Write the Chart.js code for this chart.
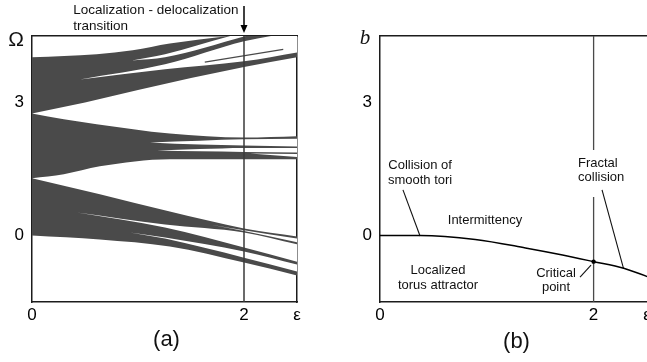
<!DOCTYPE html>
<html>
<head>
<meta charset="utf-8">
<script src="https://cdn.jsdelivr.net/npm/chart.js@4.4.1/dist/chart.umd.min.js"></script>
<style>
  html, body { margin: 0; padding: 0; background: #fff; }
  #wrap { position: relative; width: 647px; height: 362px; overflow: hidden; }
  canvas { position: absolute; top: 0; }
  #chartA { left: 0; }
  #chartB { left: 323px; }
</style>
</head>
<body>
<div id="wrap">
  <canvas id="chartA" width="323" height="362"></canvas>
  <canvas id="chartB" width="324" height="362"></canvas>
</div>
<script>
// ---- axis ticks ----
const epsTicks = [0, 2, 2.5];
const omegaTicks = [0, 3];
const bTicks = [0, 3];

// ---- panel (a): frequency bands, edges as [ε, Ω] ----
const topBandUpper = [[0, 4.02], [0.61, 4.09], [0.95, 4.18], [1.3, 4.33], [1.58, 4.42], [1.89, 4.51], [2.15, 4.6], [2.5, 4.8]];
const topBandLower = [[0, 2.75], [0.5, 3.0], [1.0, 3.28], [1.5, 3.55], [2.0, 3.8], [2.5, 4.02]];
const midBandUpper = [[0, 2.75], [0.3, 2.62], [0.61, 2.51], [1.3, 2.3], [2.0, 2.21], [2.5, 2.24]];
const midBandLower = [[0, 1.29], [0.3, 1.38], [0.64, 1.56], [1.3, 1.72], [2.0, 1.72], [2.5, 1.72]];
const lowBandUpper = [[0, 1.29], [0.64, 0.93], [1.3, 0.54], [2.0, 0.16], [2.5, -0.02]];
const lowBandLower = [[0, 0], [0.64, -0.09], [1.3, -0.25], [2.0, -0.61], [2.5, -0.9]];

// gaps opening inside the bands, [upper edge, lower edge]
const gaps = [
  [[[0.943, 3.95], [1.255, 4.09], [1.887, 4.51], [2.151, 4.65], [2.5, 4.85]],
   [[0.943, 3.95], [1.255, 4.02], [2.0, 4.49], [2.5, 4.8]]],
  [[[0.453, 3.52], [1.255, 3.86], [2.0, 4.38], [2.5, 4.6]],
   [[0.453, 3.52], [1.255, 3.75], [2.0, 3.93], [2.5, 4.13]]],
  [[[1.113, 2.10], [1.585, 2.14], [2.0, 2.17], [2.5, 2.18]],
   [[1.113, 2.10], [1.585, 2.05], [2.0, 2.03], [2.5, 2.01]]],
  [[[1.179, 1.92], [1.585, 1.95], [2.0, 1.975], [2.5, 1.975]],
   [[1.179, 1.92], [1.585, 1.90], [2.0, 1.885], [2.5, 1.87]]],
  [[[2.057, 1.85], [2.5, 1.84]],
   [[2.057, 1.85], [2.5, 1.77]]],
  [[[1.68, 0.25], [2.0, 0.12], [2.5, -0.07]],
   [[1.68, 0.25], [2.0, 0.10], [2.5, -0.15]]],
  [[[0.425, 0.52], [1.255, 0.25], [2.0, 0.07], [2.5, -0.2]],
   [[0.425, 0.52], [1.255, 0.18], [2.0, -0.27], [2.5, -0.59]]],
  [[[0.925, 0.07], [1.255, -0.045], [2.0, -0.36], [2.5, -0.655]],
   [[0.925, 0.07], [1.255, -0.07], [2.0, -0.50], [2.5, -0.81]]]
];
// thin strand left inside the upper gap
const strand = [[1.63, 3.91], [2.37, 4.2]];
const transitionEps = 2;

// ---- panel (b): boundary b(ε) ----
const boundaryEps = [0, 0.376, 0.892, 1.362, 1.709, 2.0, 2.282, 2.507];
const boundaryB = [0, 0.0, -0.09, -0.28, -0.44, -0.59, -0.74, -0.93];
const criticalPoint = [2.0, -0.59];
const pointers = [
  [[0.215, 1.03], [0.375, -0.01]],
  [[2.079, 1.03], [2.28, -0.74]],
  [[1.873, -0.94], [1.976, -0.67]]
];

const FONT = '"Liberation Sans", Arial, sans-serif';
const BAND = '#4a4a4a';
const FRAME = '#1c1c1c';

Chart.defaults.font.family = FONT;
Chart.defaults.color = '#111';

const pts = arr => arr.map(([x, y]) => ({ x, y }));

const smooth = { cubicInterpolationMode: 'monotone', pointRadius: 0, pointHoverRadius: 0, pointHitRadius: 0 };

// two datasets: upper edge filled down to the lower edge
function region(upper, lower, color, order) {
  return [
    { ...smooth, data: pts(upper), fill: '+1', backgroundColor: color, borderWidth: 0, order },
    { ...smooth, data: pts(lower), fill: false, borderWidth: 0, order }
  ];
}

function line(data, color, width, order) {
  return { data, fill: false, borderColor: color, borderWidth: width, pointRadius: 0,
           pointHoverRadius: 0, pointHitRadius: 0, order, spanGaps: false };
}

function axes(xLabel, yWidth, yValues, rightBorder) {
  const border = { display: true, color: FRAME, width: 1.5 };
  const grid = { display: false, drawTicks: false };
  const tickFont = { size: 17, family: FONT };
  const s = {
    x: {
      type: 'linear', min: 0, max: 2.5,
      afterBuildTicks: sc => { sc.ticks = epsTicks.map(v => ({ value: v })); },
      ticks: { font: tickFont, color: '#000', padding: 3, maxRotation: 0, autoSkip: false,
               callback: v => v === 2.5 ? xLabel : String(v) },
      grid, border,
      afterFit: sc => { sc.height = 60; sc.paddingLeft = 0; sc.paddingRight = 0; }
    },
    y: {
      type: 'linear', min: -1.5, max: 4.5,
      afterBuildTicks: sc => { sc.ticks = yValues.map(v => ({ value: v })); },
      ticks: { font: tickFont, color: '#000', padding: 8 },
      grid, border,
      afterFit: sc => { sc.width = yWidth; sc.paddingTop = 0; sc.paddingBottom = 0; }
    },
    xTop: {
      type: 'linear', position: 'top', min: 0, max: 2.5,
      ticks: { display: false }, grid, border,
      afterFit: sc => { sc.height = 0; sc.paddingLeft = 0; sc.paddingRight = 0; }
    }
  };
  if (rightBorder) {
    s.yRight = {
      type: 'linear', position: 'right', min: -1.5, max: 4.5,
      ticks: { display: false }, grid, border,
      afterFit: sc => { sc.width = 0; sc.paddingTop = 0; sc.paddingBottom = 0; }
    };
  }
  return s;
}

function drawText(ctx, text, x, y, size, align, font) {
  ctx.font = font || (size + 'px ' + FONT);
  ctx.fillStyle = '#111';
  ctx.textAlign = align || 'center';
  ctx.textBaseline = 'middle';
  ctx.fillText(text, x, y);
}

// ---------- panel (a) ----------
const dsA = [];
gaps.forEach(([u, l]) => dsA.push(...region(u, l, '#ffffff', 2)));
dsA.push(...region(topBandUpper, topBandLower, BAND, 3));
dsA.push(...region(midBandUpper, midBandLower, BAND, 3));
dsA.push(...region(lowBandUpper, lowBandLower, BAND, 3));
dsA.push(line(pts(strand), BAND, 1.2, 1));
dsA.push(line([{ x: transitionEps, y: -2 }, { x: transitionEps, y: 5 }], '#3a3a3a', 1.5, 0));

const notesA = {
  id: 'notesA',
  afterDraw(chart) {
    const { ctx, chartArea: a, scales } = chart;
    ctx.save();
    drawText(ctx, 'Ω', a.left - 16, a.top + 4, 21);
    drawText(ctx, 'Localization - delocalization', scales.x.getPixelForValue(0.39), a.top - 26, 13.5, 'left');
    drawText(ctx, 'transition', scales.x.getPixelForValue(0.39), a.top - 10, 13.5, 'left');
    drawText(ctx, '(a)', (a.left + a.right) / 2 + 2, 340, 22);
    // arrow down to the transition point
    const ax = scales.x.getPixelForValue(transitionEps);
    ctx.strokeStyle = '#000';
    ctx.lineWidth = 1.5;
    ctx.beginPath();
    ctx.moveTo(ax, a.top - 30);
    ctx.lineTo(ax, a.top - 9);
    ctx.stroke();
    ctx.fillStyle = '#000';
    ctx.beginPath();
    ctx.moveTo(ax - 3.5, a.top - 11);
    ctx.lineTo(ax + 3.5, a.top - 11);
    ctx.lineTo(ax, a.top - 3);
    ctx.closePath();
    ctx.fill();
    ctx.restore();
  }
};

new Chart(document.getElementById('chartA'), {
  type: 'line',
  data: { datasets: dsA },
  options: {
    responsive: false,
    animation: false,
    events: [],
    layout: { autoPadding: false, padding: { left: 0, top: 36, right: 26, bottom: 0 } },
    plugins: { legend: { display: false }, tooltip: { enabled: false } },
    scales: axes('ε', 32, omegaTicks, true)
  },
  plugins: [notesA]
});

// ---------- panel (b) ----------
const boundary = boundaryEps.map((e, i) => ({ x: e, y: boundaryB[i] }));
const dsB = [
  { ...line(boundary, '#000', 1.5, 1), cubicInterpolationMode: 'monotone' },
  // ε = 2 line, broken where the label sits
  line([{ x: transitionEps, y: 5 }, { x: transitionEps, y: 1.93 }, { x: transitionEps, y: null },
        { x: transitionEps, y: 0.87 }, { x: transitionEps, y: -2 }], '#4a4a4a', 1.3, 2),
  ...pointers.map(p => line(pts(p), '#111', 1.1, 1)),
  { data: [{ x: criticalPoint[0], y: criticalPoint[1] }], showLine: false, pointRadius: 2.2,
    pointHoverRadius: 0, pointBackgroundColor: '#000', pointBorderWidth: 0, order: 0 }
];

const notesList = [
  ['Collision of', 0.375, 1.59, 'center'],
  ['smooth tori', 0.375, 1.25, 'center'],
  ['Fractal', 1.854, 1.635, 'left'],
  ['collision', 1.854, 1.30, 'left'],
  ['Intermittency', 0.983, 0.35, 'center'],
  ['Localized', 0.543, -0.78, 'center'],
  ['torus attractor', 0.543, -1.12, 'center'],
  ['Critical', 1.648, -0.85, 'center'],
  ['point', 1.648, -1.16, 'center']
];

const notesB = {
  id: 'notesB',
  afterDraw(chart) {
    const { ctx, chartArea: a, scales } = chart;
    ctx.save();
    notesList.forEach(([t, e, b, al]) =>
      drawText(ctx, t, scales.x.getPixelForValue(e), scales.y.getPixelForValue(b), 13, al));
    drawText(ctx, 'b', a.left - 15, a.top + 2, 21, 'center', 'italic 21px "Liberation Serif", "DejaVu Serif", serif');
    drawText(ctx, '(b)', (a.left + a.right) / 2 + 3, 342, 22);
    ctx.restore();
  }
};

new Chart(document.getElementById('chartB'), {
  type: 'line',
  data: { datasets: dsB },
  options: {
    responsive: false,
    animation: false,
    events: [],
    layout: { autoPadding: false, padding: { left: 0, top: 36, right: 0, bottom: 0 } },
    plugins: { legend: { display: false }, tooltip: { enabled: false } },
    scales: axes('ε', 57, bTicks, false)
  },
  plugins: [notesB]
});
</script>
</body>
</html>
